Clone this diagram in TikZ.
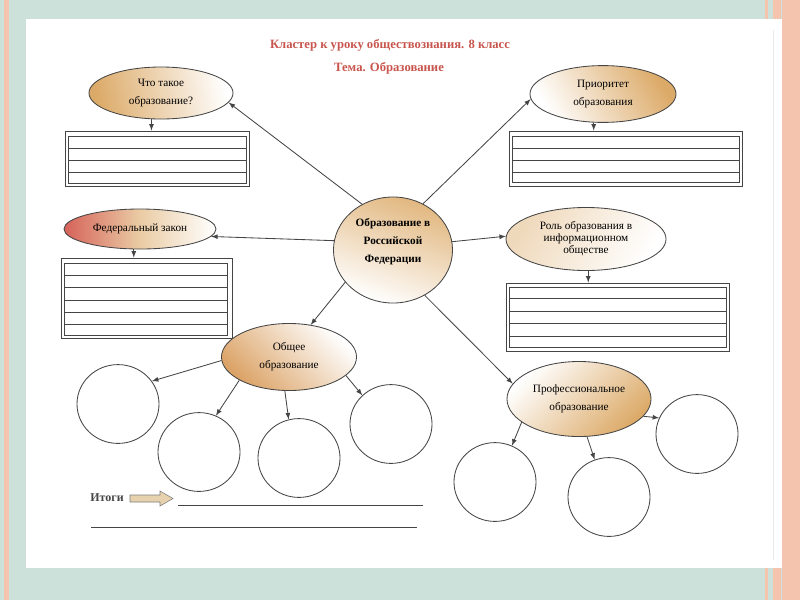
\documentclass[tikz,border=0pt]{standalone}
\usepackage{fontspec}
\setmainfont{Liberation Serif}
\usetikzlibrary{shapes.geometric}
\definecolor{bgteal}{HTML}{CCE1D9}
\definecolor{stripe}{HTML}{F4C4AE}
\definecolor{gold}{HTML}{DCAA68}
\definecolor{brick}{HTML}{D6625A}
\definecolor{titlered}{HTML}{C8554E}
\definecolor{ink}{HTML}{454545}
\definecolor{sand}{HTML}{E8D2AE}
\tikzset{
  bubble/.style={ellipse, draw=ink, line width=0.6pt, inner sep=0pt, align=center,
    font=\fontsize{8}{13}\selectfont},
  blank/.style={ellipse, draw=ink, line width=0.6pt, inner sep=0pt,
    minimum width=2.05cm, minimum height=1.97cm},
  sheet/.style={draw=ink, line width=0.6pt, inner sep=0pt},
  link/.style={->, >=latex, draw=ink, line width=0.6pt},
  title/.style={text=titlered, font=\bfseries\fontsize{9}{11}\selectfont},
}
\begin{document}
\begin{tikzpicture}[x=0.025cm, y=-0.025cm]
        \useasboundingbox (0,0) rectangle (800,600);
        % slide background
        \fill[bgteal] (0,0) rectangle (800,600);
        \fill[stripe] (4,0) rectangle (9,600);
        \fill[stripe] (765,0) rectangle (768,600);
        \fill[stripe] (773,0) rectangle (781,600);
        \fill[stripe] (782,0) rectangle (800,600);
        \fill[white] (26,19) rectangle (782,568);
        \draw[black!8] (773,30) -- (773,560);
        % heading
        \node[title] (t1) at (390,45) {Кластер к уроку обществознания. 8 класс};
        \node[title] (t2) at (389,68) {Тема. Образование};
        % centre
        \node[bubble, minimum width=2.975cm, minimum height=2.65cm, top color=gold!85, bottom color=white, shading angle=-20,
          label={[font=\bfseries\fontsize{8}{13}\selectfont, align=center, yshift=6pt]center:Образование в\\Российской\\Федерации}] (edu) at (393,250) {};
        % left side
        \node[bubble, minimum width=3.6cm, minimum height=1.3cm, top color=gold, bottom color=white, shading angle=100] (what) at (161,93) {Что такое\\образование?};
        \node[bubble, minimum width=3.8cm, minimum height=1.0cm, left color=brick, right color=white, middle color=gold!60] (law) at (140,229) {Федеральный закон};
        \node[sheet, minimum width=4.6cm, minimum height=1.375cm] (whatbox) at (157,158.5) {};
        \draw[ink] (68,136) rectangle (246,183);
        \foreach \y in {148,160,172} \draw[ink] (68,\y) -- (246,\y);
        \node[sheet, minimum width=4.275cm, minimum height=2.0cm] (lawbox) at (146.5,298) {};
        \draw[ink] (64,263) rectangle (227,335);
        \foreach \y in {275,287,300,312,324} \draw[ink] (64,\y) -- (227,\y);
        % right side
        \node[bubble, minimum width=3.65cm, minimum height=1.42cm, top color=gold, bottom color=white, shading angle=-60] (prio) at (603,94) {Приоритет\\образования};
        \node[bubble, font=\fontsize{8}{8.6}\selectfont, minimum width=4.0cm, minimum height=1.575cm, top color=gold!45, bottom color=white, shading angle=60] (role) at (586,239) {Роль образования в\\информационном\\обществе};
        \node[sheet, minimum width=5.825cm, minimum height=1.375cm] (priobox) at (625.5,158.5) {};
        \draw[ink] (512,136) rectangle (739,182);
        \foreach \y in {148,160,172} \draw[ink] (512,\y) -- (739,\y);
        \node[sheet, minimum width=5.575cm, minimum height=1.7cm] (rolebox) at (617.5,317) {};
        \draw[ink] (509,287) rectangle (726,347);
        \foreach \y in {298,311,323,336} \draw[ink] (509,\y) -- (726,\y);
        % lower branches
        \node[bubble, minimum width=3.375cm, minimum height=1.675cm, top color=gold!90!brick, bottom color=white, shading angle=135] (gen) at (289,357) {Общее\\образование};
        \node[bubble, minimum width=3.6cm, minimum height=1.875cm, top color=gold, bottom color=white, shading angle=-135] (prof) at (579,399) {Профессиональное\\образование};
        \node[blank] (g1) at (118,404) {};
        \node[blank] (g2) at (199,452) {};
        \node[blank] (g3) at (299,458) {};
        \node[blank] (g4) at (391,424) {};
        \node[blank] (p1) at (495,482) {};
        \node[blank] (p2) at (609,497) {};
        \node[blank] (p3) at (697,434) {};
        % arrows
        \draw[link] (edu.124) -- (what.-8);
        \draw[link] (edu.57) -- (prio.184);
        \draw[link] (edu.171) -- (law.-6);
        \draw[link] (edu.8) -- (role.178);
        \draw[link] (edu.214) -- (gen.56);
        \draw[link] (edu.-55) -- (prof.167);
        \draw[link] (what.250) -- (what.250 |- whatbox.north);
        \draw[link] (law.253) -- (law.253 |- lawbox.north);
        \draw[link] (prio.252) -- (prio.252 |- priobox.north);
        \draw[link] (role.274) -- (role.274 |- rolebox.north);
        \draw[link] (gen.183) -- (g1.34);
        \draw[link] (gen.205) -- (g2.65);
        \draw[link] (gen.263) -- (g3.105);
        \draw[link] (gen.-18) -- (g4.135);
        \draw[link] (prof.202) -- (p1.65);
        \draw[link] (prof.282) -- (p2.111);
        \draw[link] (prof.-15) -- (p3.157);
        % summary
        \node[font=\bfseries\fontsize{8.5}{10}\selectfont, text=ink] (sum) at (107,498) {Итоги};
        \filldraw[fill=sand, draw=ink!70] (130,495) -- (160,495) -- (160,491) -- (173,498.5) -- (160,506) -- (160,502) -- (130,502) -- cycle;
        \draw[ink] (178,505) -- (423,505);
        \draw[ink] (91,527) -- (417,527);
\end{tikzpicture}
\end{document}
